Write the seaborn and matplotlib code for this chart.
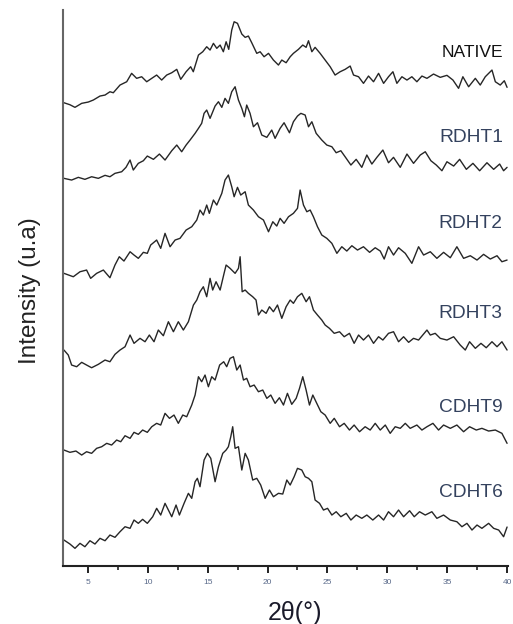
import matplotlib
matplotlib.use("Agg")
import matplotlib.pyplot as plt
import numpy as np
import pandas as pd
import seaborn as sns
from matplotlib.ticker import MultipleLocator

# XRD patterns, 2theta (deg) vs intensity (a.u.)
samples = ['NATIVE', 'RDHT1', 'RDHT2', 'RDHT3', 'CDHT9', 'CDHT6']

tt_native = [3.0, 3.5, 3.92, 4.48, 5.03, 5.45, 6.01, 6.43, 6.84, 7.12,
             7.68, 8.24, 8.65, 9.07, 9.49, 9.91, 10.33, 10.74, 11.16, 11.58,
             12.0, 12.42, 12.75, 13.2, 13.58, 13.8, 14.23, 14.59, 14.92, 15.2,
             15.48, 15.76, 16.04, 16.31, 16.54, 16.76, 17.01, 17.21, 17.49, 17.85,
             18.13, 18.4, 18.68, 19.1, 19.38, 19.71, 20.08, 20.49, 20.91, 21.19,
             21.55, 21.89, 22.16, 22.58, 22.94, 23.22, 23.42, 23.7, 23.97, 24.39,
             24.81, 25.23, 25.64, 26.06, 26.48, 26.9, 27.18, 27.6, 28.01, 28.43,
             28.85, 29.27, 29.69, 30.1, 30.47, 30.8, 31.22, 31.64, 32.05, 32.47,
             32.89, 33.31, 33.86, 34.42, 34.98, 35.48, 35.95, 36.31, 36.79, 37.35,
             37.76, 38.18, 38.74, 39.02, 39.43, 39.77, 40.0]
i_native = [2.3, 0.3, -2.3, 1.7, 3.0, 5.0, 9.0, 10.0, 13.3, 12.3,
            20.0, 23.3, 31.7, 26.7, 28.3, 23.3, 26.7, 30.0, 25.0, 30.0,
            32.3, 35.7, 25.7, 33.3, 38.3, 33.3, 50.0, 53.3, 58.3, 55.0,
            61.7, 56.7, 60.0, 53.3, 63.3, 55.7, 75.0, 83.3, 81.7, 71.0,
            67.7, 69.0, 62.3, 51.7, 53.3, 48.3, 51.7, 45.0, 40.0, 45.0,
            42.3, 48.3, 51.7, 55.7, 60.0, 57.7, 64.3, 53.3, 57.7, 51.7,
            45.0, 38.3, 30.0, 33.3, 35.7, 39.0, 30.0, 28.3, 21.7, 29.0,
            23.3, 31.7, 21.7, 28.3, 33.3, 21.7, 28.3, 25.0, 28.3, 23.3,
            29.0, 26.7, 31.0, 27.7, 29.7, 25.0, 16.7, 28.3, 18.3, 26.7,
            20.0, 28.3, 35.0, 23.3, 20.0, 24.3, 17.7]

tt_rdht1 = [3.0, 3.64, 4.2, 4.75, 5.31, 5.87, 6.43, 6.84, 7.26, 7.82,
            8.18, 8.52, 8.79, 9.21, 9.63, 9.96, 10.47, 10.97, 11.44, 12.0,
            12.42, 12.83, 13.2, 13.53, 13.95, 14.23, 14.5, 14.7, 14.92, 15.2,
            15.62, 15.9, 16.18, 16.45, 16.73, 17.01, 17.29, 17.57, 17.85, 18.07,
            18.26, 18.54, 18.82, 19.16, 19.52, 19.94, 20.35, 20.63, 21.05, 21.38,
            21.83, 22.16, 22.5, 22.78, 23.14, 23.42, 23.7, 24.06, 24.53, 24.95,
            25.37, 25.73, 26.12, 26.57, 26.96, 27.4, 27.87, 28.29, 28.71, 29.13,
            29.63, 30.1, 30.52, 31.08, 31.64, 32.19, 32.75, 33.17, 33.64, 34.09,
            34.56, 34.98, 35.54, 36.04, 36.6, 37.15, 37.71, 38.32, 38.88, 39.38,
            39.71, 40.0]
i_rdht1 = [3.7, 2.0, 4.7, 2.7, 5.3, 3.7, 6.7, 5.3, 8.7, 10.3,
           14.7, 22.0, 12.0, 18.7, 21.3, 26.0, 22.7, 28.0, 22.0, 31.3,
           37.0, 30.3, 37.0, 42.0, 48.7, 53.7, 58.7, 68.7, 72.0, 63.7,
           76.0, 80.3, 74.7, 83.7, 78.7, 90.3, 95.3, 82.0, 73.7, 65.3,
           77.0, 68.7, 55.3, 59.3, 47.0, 44.7, 52.0, 43.7, 53.7, 59.3,
           49.3, 60.3, 66.0, 68.7, 67.0, 55.3, 60.3, 48.7, 42.0, 37.0,
           35.3, 29.3, 31.3, 23.7, 17.0, 22.7, 14.7, 27.0, 18.0, 24.7,
           32.0, 19.3, 24.7, 14.7, 28.0, 18.7, 27.0, 30.3, 21.3, 17.0,
           11.3, 20.3, 16.0, 22.7, 12.7, 18.7, 11.3, 19.3, 12.7, 18.0,
           11.3, 14.7]

tt_rdht2 = [3.0, 3.78, 4.34, 4.89, 5.23, 5.73, 6.29, 6.84, 7.26, 7.62,
            8.01, 8.52, 8.85, 9.21, 9.63, 9.96, 10.24, 10.74, 11.08, 11.44,
            11.86, 12.28, 12.69, 13.2, 13.67, 14.09, 14.36, 14.64, 14.92, 15.14,
            15.48, 15.76, 16.18, 16.45, 16.73, 17.01, 17.21, 17.49, 17.76, 18.13,
            18.4, 18.82, 19.24, 19.66, 20.08, 20.44, 20.77, 21.05, 21.38, 21.75,
            22.16, 22.5, 22.72, 23.0, 23.28, 23.56, 23.83, 24.17, 24.53, 24.95,
            25.37, 25.79, 26.2, 26.62, 27.04, 27.51, 28.01, 28.52, 28.99, 29.41,
            29.74, 30.1, 30.52, 30.94, 31.5, 32.05, 32.61, 33.03, 33.59, 34.14,
            34.7, 35.26, 35.81, 36.37, 36.93, 37.49, 38.04, 38.6, 39.16, 39.57,
            40.0]
i_rdht2 = [2.7, -0.7, 4.3, 6.0, -2.3, 2.7, 6.0, -1.7, 11.0, 19.3,
           15.0, 24.3, 21.0, 17.7, 23.7, 22.7, 31.0, 36.0, 27.7, 42.7,
           29.3, 36.0, 37.7, 46.0, 49.3, 56.0, 66.0, 61.0, 71.0, 62.7,
           76.0, 71.0, 82.7, 96.0, 101.0, 89.3, 79.3, 88.7, 81.0, 84.3,
           71.0, 66.0, 59.3, 56.0, 44.3, 54.3, 50.0, 57.7, 52.7, 59.3,
           62.7, 67.7, 86.0, 71.0, 64.3, 66.0, 59.3, 49.3, 41.0, 37.7,
           32.7, 22.7, 29.3, 25.0, 30.3, 26.0, 29.3, 23.7, 28.3, 25.0,
           17.0, 29.3, 21.0, 28.3, 22.7, 12.7, 29.3, 21.0, 24.3, 17.7,
           23.7, 18.3, 29.3, 17.7, 20.3, 16.0, 21.7, 17.0, 20.3, 14.3,
           16.0]

tt_rdht3 = [3.0, 3.36, 3.64, 4.06, 4.48, 4.89, 5.31, 5.87, 6.43, 6.84,
            7.26, 7.68, 8.1, 8.52, 8.85, 9.35, 9.77, 10.13, 10.52, 10.88,
            11.3, 11.72, 12.14, 12.55, 12.97, 13.39, 13.81, 14.09, 14.36, 14.64,
            14.92, 15.2, 15.42, 15.7, 16.04, 16.37, 16.54, 16.87, 17.29, 17.57,
            17.71, 17.88, 18.13, 18.4, 18.76, 19.04, 19.24, 19.52, 19.88, 20.16,
            20.49, 20.83, 21.19, 21.55, 21.89, 22.16, 22.5, 22.86, 23.22, 23.5,
            23.83, 24.17, 24.53, 24.81, 25.17, 25.57, 26.01, 26.4, 26.84, 27.23,
            27.6, 28.01, 28.43, 28.85, 29.27, 29.63, 30.1, 30.52, 30.94, 31.36,
            31.78, 32.19, 32.61, 33.08, 33.31, 33.59, 34.0, 34.42, 34.98, 35.54,
            36.09, 36.51, 36.87, 37.35, 37.82, 38.26, 38.74, 39.16, 39.57, 40.0]
i_rdht3 = [20.0, 15.0, 5.0, 3.3, 7.7, 5.0, 2.3, 5.7, 10.0, 8.3,
           15.7, 20.0, 23.3, 35.0, 26.7, 31.7, 28.3, 35.0, 28.3, 40.0,
           34.3, 48.3, 38.3, 48.3, 40.0, 48.3, 65.0, 70.0, 78.3, 83.3,
           73.3, 91.7, 80.0, 88.3, 80.0, 96.7, 105.0, 101.7, 96.7, 101.7,
           113.3, 78.3, 80.0, 76.7, 73.3, 70.0, 55.0, 60.0, 56.7, 63.3,
           58.3, 65.0, 51.7, 63.3, 70.0, 66.7, 73.3, 76.7, 68.3, 73.3,
           60.0, 55.0, 50.0, 45.0, 41.7, 36.7, 38.3, 33.3, 36.7, 26.7,
           35.0, 30.0, 35.0, 26.7, 33.3, 30.0, 36.7, 38.3, 28.3, 33.3,
           27.7, 31.7, 30.0, 36.7, 40.0, 35.0, 36.7, 31.7, 30.0, 33.3,
           25.0, 20.0, 28.3, 21.7, 26.7, 22.3, 28.3, 23.3, 28.3, 20.0]

tt_cdht9 = [3.0, 3.5, 4.0, 4.48, 4.89, 5.31, 5.73, 6.15, 6.57, 6.98,
            7.4, 7.74, 8.1, 8.52, 8.85, 9.21, 9.57, 9.96, 10.33, 10.74,
            11.08, 11.44, 11.81, 12.19, 12.55, 12.92, 13.25, 13.67, 13.95, 14.23,
            14.5, 14.78, 15.06, 15.34, 15.62, 16.0, 16.34, 16.59, 16.87, 17.15,
            17.43, 17.71, 17.99, 18.26, 18.54, 18.88, 19.24, 19.6, 19.94, 20.27,
            20.63, 20.99, 21.33, 21.66, 22.02, 22.39, 22.67, 22.94, 23.22, 23.5,
            23.78, 24.11, 24.45, 24.81, 25.23, 25.57, 26.01, 26.4, 26.84, 27.23,
            27.68, 28.15, 28.57, 28.99, 29.41, 29.83, 30.24, 30.66, 31.08, 31.5,
            31.91, 32.47, 32.89, 33.31, 33.81, 34.28, 34.7, 35.26, 35.81, 36.37,
            36.87, 37.43, 37.9, 38.46, 39.02, 39.57, 40.0]
i_cdht9 = [5.0, 2.7, 4.0, 0.0, 3.3, 1.7, 6.7, 8.3, 11.7, 10.0,
           15.0, 13.3, 19.3, 16.7, 22.7, 20.7, 25.0, 22.7, 28.3, 31.7,
           30.0, 41.7, 36.7, 40.0, 31.7, 40.0, 38.3, 50.0, 60.0, 78.3,
           73.3, 80.0, 68.3, 78.3, 75.0, 90.0, 93.3, 88.3, 96.7, 98.3,
           85.0, 90.0, 75.0, 76.7, 68.3, 70.0, 63.3, 65.0, 56.7, 60.0,
           51.7, 57.3, 50.0, 61.7, 50.7, 56.7, 66.7, 78.3, 65.0, 50.0,
           60.0, 51.7, 43.3, 40.0, 31.7, 36.7, 28.3, 31.7, 25.0, 30.0,
           23.3, 28.3, 25.0, 31.7, 25.0, 30.0, 21.7, 28.3, 26.7, 31.7,
           26.7, 30.0, 25.0, 28.3, 31.7, 25.0, 30.0, 26.7, 30.0, 23.3,
           28.3, 25.0, 26.7, 24.0, 25.0, 21.7, 11.7]

tt_cdht6 = [3.0, 3.5, 3.92, 4.34, 4.75, 5.17, 5.59, 6.01, 6.43, 6.84,
            7.26, 7.68, 8.1, 8.52, 8.85, 9.21, 9.57, 9.96, 10.41, 10.74,
            11.08, 11.44, 11.72, 12.0, 12.36, 12.64, 13.03, 13.39, 13.67, 13.95,
            14.14, 14.36, 14.7, 14.98, 15.26, 15.62, 15.9, 16.26, 16.54, 16.73,
            16.93, 17.09, 17.29, 17.57, 17.85, 18.13, 18.4, 18.76, 19.1, 19.43,
            19.8, 20.16, 20.49, 20.91, 21.27, 21.61, 21.89, 22.22, 22.5, 22.86,
            23.14, 23.42, 23.7, 23.97, 24.34, 24.67, 25.01, 25.37, 25.73, 26.12,
            26.57, 26.96, 27.4, 27.87, 28.29, 28.79, 29.27, 29.69, 30.1, 30.52,
            30.94, 31.36, 31.86, 32.25, 32.69, 33.17, 33.72, 34.14, 34.7, 35.26,
            35.81, 36.23, 36.65, 37.07, 37.49, 37.9, 38.46, 38.88, 39.3, 39.71,
            40.0]
i_cdht6 = [8.0, 4.0, -0.3, 4.7, 1.3, 7.3, 4.0, 9.7, 7.3, 13.0,
           10.7, 16.3, 21.3, 19.7, 28.0, 24.7, 28.7, 24.7, 31.3, 39.7,
           33.0, 44.7, 38.0, 31.3, 43.0, 33.0, 44.7, 54.7, 49.7, 66.3,
           69.7, 61.3, 88.0, 94.7, 89.7, 66.3, 81.3, 94.7, 98.0, 101.3,
           111.3, 121.3, 99.7, 101.3, 78.0, 94.7, 88.0, 68.0, 69.7, 63.0,
           49.7, 58.0, 51.3, 54.7, 54.0, 68.0, 63.0, 71.3, 79.7, 78.0,
           71.3, 69.7, 66.3, 48.0, 44.7, 38.0, 39.7, 33.0, 36.3, 31.3,
           34.7, 28.0, 33.0, 29.7, 33.0, 28.0, 33.0, 28.0, 36.3, 31.3,
           38.0, 31.3, 37.3, 31.3, 36.3, 33.0, 36.3, 29.7, 33.0, 28.0,
           26.3, 21.3, 24.7, 18.0, 23.0, 19.7, 24.7, 19.7, 18.0, 11.3,
           21.0]

two_theta = [tt_native, tt_rdht1, tt_rdht2, tt_rdht3, tt_cdht9, tt_cdht6]
intensity = [i_native, i_rdht1, i_rdht2, i_rdht3, i_cdht9, i_cdht6]

# vertical stacking of the patterns and label heights (a.u.)
offsets = [461, 384, 290, 196, 111, 18]
label_y = [514, 429, 343, 253, 159, 74]

frames = []
for name, x, y, off in zip(samples, two_theta, intensity, offsets):
    frames.append(pd.DataFrame({'sample': name, 'two_theta': x,
                                'counts': np.array(y) + off}))
df = pd.concat(frames, ignore_index=True)

sns.set_style('ticks')
plt.rcParams['font.family'] = ['Liberation Sans', 'DejaVu Sans']

fig = plt.figure(figsize=(5.13, 6.24), dpi=100)
ax = fig.add_axes([0.1228, 0.0929, 0.8675, 0.891])

for name in samples:
    sns.lineplot(data=df[df['sample'] == name], x='two_theta', y='counts',
                 estimator=None, sort=False, color='#262626', lw=1.0, ax=ax)

for name, ly in zip(samples, label_y):
    col = '#111111' if name == 'NATIVE' else '#34425e'
    fs = 12.5 if name == 'NATIVE' else 13.8
    ax.text(39.65, ly, name, ha='right', va='center', fontsize=fs, color=col)

ax.set_xlim(2.92, 40.08)
ax.set_ylim(0, 556)
ax.xaxis.set_major_locator(MultipleLocator(5))
ax.xaxis.set_minor_locator(MultipleLocator(2.5))
ax.set_yticks([])
ax.tick_params(axis='x', which='major', length=5, width=1.4, color='#222222',
               labelsize=6, labelcolor='#5a6a8a', pad=4)
ax.tick_params(axis='x', which='minor', length=3, width=1.2, color='#222222')

sns.despine(ax=ax, top=True, right=True)
ax.spines['left'].set_linewidth(1.5)
ax.spines['left'].set_color('#666666')
ax.spines['bottom'].set_linewidth(1.5)
ax.spines['bottom'].set_color('#222222')

ax.set_xlabel('2θ(°)', fontsize=18, color='#1a1a2a')
ax.xaxis.set_label_coords(0.521, -0.063)
ax.set_ylabel('Intensity (u.a)', fontsize=17.5, color='#222222')
ax.yaxis.set_label_coords(-0.05, 0.495)

fig.savefig('out.png', dpi=100)
